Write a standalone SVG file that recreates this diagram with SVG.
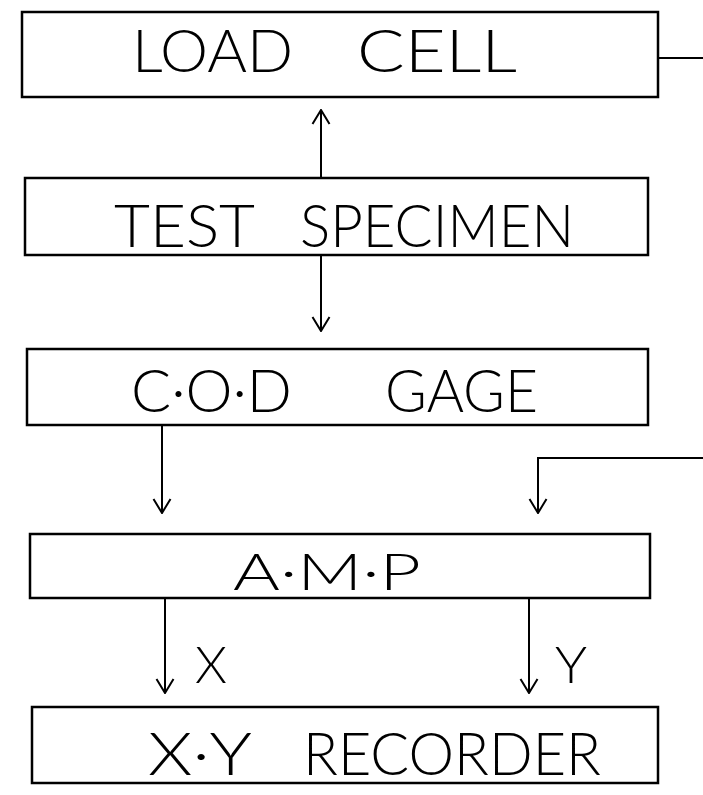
<svg xmlns="http://www.w3.org/2000/svg" width="703" height="795" viewBox="0 0 703 795">
<defs>
<marker id="ah" markerWidth="16" markerHeight="20" refX="15" refY="10" orient="auto" markerUnits="userSpaceOnUse" viewBox="0 0 16 20">
<path d="M1,1.5 L15,10 L1,18.5" fill="none" stroke="#000" stroke-width="2"/>
</marker>
<style>
.box{fill:#fff;stroke:#000;stroke-width:2.5}
.t{font-family:"Lato","Roboto","Liberation Sans",sans-serif;font-weight:300;fill:#000}
.c{fill:none;stroke:#000;stroke-width:2}
</style>
</defs>
<rect width="703" height="795" fill="#fff"/>
<g id="load-cell">
<rect class="box" x="22" y="12" width="636" height="85"/>
<text class="t" x="132" y="72" font-size="59" textLength="161" lengthAdjust="spacingAndGlyphs">LOAD</text>
<text class="t" x="357" y="72" font-size="59" textLength="160" lengthAdjust="spacingAndGlyphs">CELL</text>
</g>
<g id="test-specimen">
<rect class="box" x="25" y="178" width="623" height="77"/>
<text class="t" x="114" y="247" font-size="59" textLength="141" lengthAdjust="spacingAndGlyphs">TEST</text>
<text class="t" x="300" y="247" font-size="59" textLength="274" lengthAdjust="spacingAndGlyphs">SPECIMEN</text>
</g>
<g id="cod-gage">
<rect class="box" x="27" y="349" width="621" height="76"/>
<text class="t" x="131" y="412" font-size="59" textLength="161" lengthAdjust="spacingAndGlyphs">C·O·D</text>
<text class="t" x="385" y="412" font-size="59" textLength="153" lengthAdjust="spacingAndGlyphs">GAGE</text>
</g>
<g id="amp">
<rect class="box" x="30" y="534" width="620" height="64"/>
<text class="t" x="233" y="590" font-size="52" textLength="188" lengthAdjust="spacingAndGlyphs">A·M·P</text>
</g>
<g id="xy-recorder">
<rect class="box" x="32" y="707" width="626" height="76"/>
<text class="t" x="148" y="775" font-size="59" textLength="104" lengthAdjust="spacingAndGlyphs">X·Y</text>
<text class="t" x="303" y="775" font-size="59" textLength="298" lengthAdjust="spacingAndGlyphs">RECORDER</text>
</g>
<g id="connectors">
<path class="c" d="M658,58 H703"/>
<path class="c" d="M321,178 V110" marker-end="url(#ah)"/>
<path class="c" d="M321,255 V331" marker-end="url(#ah)"/>
<path class="c" d="M162,425 V513" marker-end="url(#ah)"/>
<path class="c" d="M703,458 H538 V513" marker-end="url(#ah)"/>
<path class="c" d="M165,598 V693" marker-end="url(#ah)"/>
<path class="c" d="M529,598 V693" marker-end="url(#ah)"/>
<text class="t" x="195" y="683" font-size="52" textLength="32" lengthAdjust="spacingAndGlyphs">X</text>
<text class="t" x="555" y="683" font-size="52" textLength="32" lengthAdjust="spacingAndGlyphs">Y</text>
</g>
</svg>
